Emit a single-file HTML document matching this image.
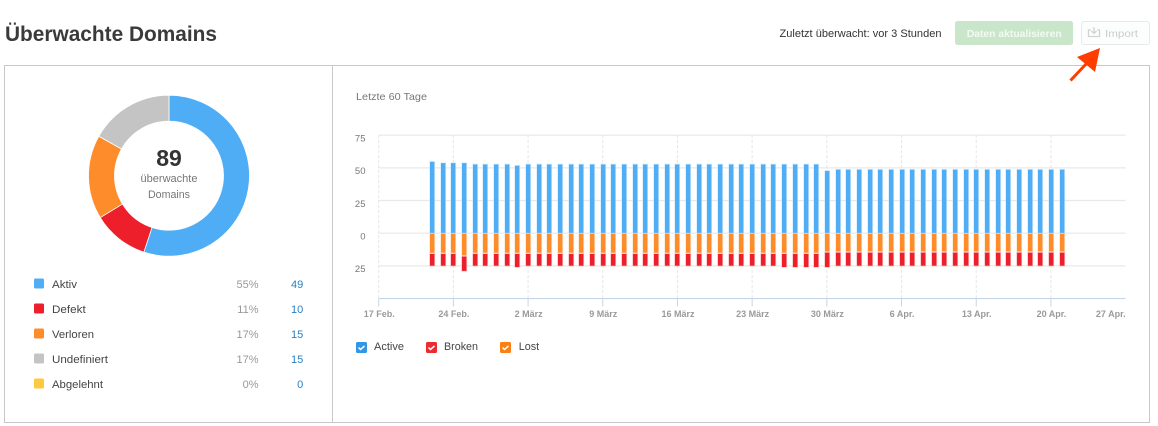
<!DOCTYPE html>
<html lang="de">
<head>
<meta charset="utf-8">
<title>Überwachte Domains</title>
<style>
html,body{margin:0;padding:0;background:#fff;width:1158px;height:426px;overflow:hidden}
svg{display:block;font-family:"Liberation Sans",sans-serif}
</style>
</head>
<body>
<svg id="page" width="1158" height="426" viewBox="0 0 1158 426" xmlns="http://www.w3.org/2000/svg">
  <text x="5" y="41" font-size="21" font-weight="700" fill="#3a3a3a" textLength="212" lengthAdjust="spacingAndGlyphs">Überwachte Domains</text>
  <text x="779.5" y="37" font-size="11" fill="#333" textLength="162" lengthAdjust="spacingAndGlyphs">Zuletzt überwacht: vor 3 Stunden</text>

  <g>
    <rect x="955" y="21" width="118" height="24" rx="2.5" fill="#c9e6ca"/>
    <text x="966.7" y="37" font-size="10.5" font-weight="700" fill="#f2faf2" textLength="95" lengthAdjust="spacingAndGlyphs">Daten aktualisieren</text>
  </g>
  <g>
    <rect x="1081.5" y="21.5" width="68" height="23" rx="2.5" fill="#fcfdfd" stroke="#e8eaea"/>
    <g fill="none" stroke="#d2d2d2" stroke-width="1.300">
      <path d="M1091 30h-2.500v6.500h11V30H1097"/>
      <path d="M1094 27v6.500M1091.500 31l2.500 2.500 2.500-2.500"/>
    </g>
    <text x="1105" y="37" font-size="10.500" fill="#cccccc" textLength="33" lengthAdjust="spacingAndGlyphs">Import</text>
  </g>

  <rect x="4.500" y="65.500" width="1145" height="357" fill="#fff" stroke="#c9c9c9"/>
  <line x1="332.500" y1="66" x2="332.500" y2="422" stroke="#c9c9c9"/>

  <g id="donut"></g>
  <text x="169" y="166" font-size="23" font-weight="700" fill="#333" text-anchor="middle">89</text>
  <text x="169" y="182" font-size="11" fill="#777" text-anchor="middle" textLength="57" lengthAdjust="spacingAndGlyphs">überwachte</text>
  <text x="169" y="198" font-size="11" fill="#777" text-anchor="middle" textLength="42" lengthAdjust="spacingAndGlyphs">Domains</text>

  <g font-size="11">
    <g>
      <rect x="34" y="278.500" width="10" height="10" rx="1.500" fill="#4fadf5"/>
      <text x="52" y="288" fill="#444" textLength="25" lengthAdjust="spacingAndGlyphs">Aktiv</text>
      <text x="258.500" y="288" fill="#999" text-anchor="end">55%</text>
      <text x="303.300" y="288" fill="#2a7fc1" text-anchor="end">49</text>
    </g>
    <g>
      <rect x="34" y="303.500" width="10" height="10" rx="1.500" fill="#ed1f2b"/>
      <text x="52" y="313" fill="#444" textLength="33.700" lengthAdjust="spacingAndGlyphs">Defekt</text>
      <text x="258.500" y="313" fill="#999" text-anchor="end">11%</text>
      <text x="303.300" y="313" fill="#2a7fc1" text-anchor="end">10</text>
    </g>
    <g>
      <rect x="34" y="328.500" width="10" height="10" rx="1.500" fill="#ff8c2b"/>
      <text x="52" y="338" fill="#444" textLength="42" lengthAdjust="spacingAndGlyphs">Verloren</text>
      <text x="258.500" y="338" fill="#999" text-anchor="end">17%</text>
      <text x="303.300" y="338" fill="#2a7fc1" text-anchor="end">15</text>
    </g>
    <g>
      <rect x="34" y="353.500" width="10" height="10" rx="1.500" fill="#c4c4c4"/>
      <text x="52" y="363" fill="#444" textLength="56" lengthAdjust="spacingAndGlyphs">Undefiniert</text>
      <text x="258.500" y="363" fill="#999" text-anchor="end">17%</text>
      <text x="303.300" y="363" fill="#2a7fc1" text-anchor="end">15</text>
    </g>
    <g>
      <rect x="34" y="378.500" width="10" height="10" rx="1.500" fill="#ffc83d"/>
      <text x="52" y="388" fill="#444" textLength="51" lengthAdjust="spacingAndGlyphs">Abgelehnt</text>
      <text x="258.500" y="388" fill="#999" text-anchor="end">0%</text>
      <text x="303.300" y="388" fill="#2a7fc1" text-anchor="end">0</text>
    </g>
  </g>

  <text x="356" y="100" font-size="10.500" fill="#777" textLength="71" lengthAdjust="spacingAndGlyphs">Letzte 60 Tage</text>

  <g id="bar-chart"></g>

  <g font-size="11">
    <g>
      <rect x="356" y="342" width="11" height="11" rx="1.500" fill="#2f96e8"/>
      <path d="M358.500 347.500l2 2 4-3.500" fill="none" stroke="#fff" stroke-width="1.500"/>
      <text x="374" y="350" fill="#444" textLength="30" lengthAdjust="spacingAndGlyphs">Active</text>
    </g>
    <g>
      <rect x="426" y="342" width="11" height="11" rx="1.500" fill="#ee2a2e"/>
      <path d="M428.500 347.500l2 2 4-3.500" fill="none" stroke="#fff" stroke-width="1.500"/>
      <text x="444" y="350" fill="#444" textLength="34" lengthAdjust="spacingAndGlyphs">Broken</text>
    </g>
    <g>
      <rect x="500" y="342" width="11" height="11" rx="1.500" fill="#ff7f0e"/>
      <path d="M502.500 347.500l2 2 4-3.500" fill="none" stroke="#fff" stroke-width="1.500"/>
      <text x="518.700" y="350" fill="#444" textLength="20.500" lengthAdjust="spacingAndGlyphs">Lost</text>
    </g>
  </g>

  <g>
    <line x1="1070.500" y1="80.500" x2="1087" y2="63" stroke="#ff3d00" stroke-width="3"/>
    <polygon points="1100,48 1077,57 1095,72" fill="#ff3d00"/>
  </g>
</svg>

<script>
// Donut data
const donutLabels = ["Aktiv", "Defekt", "Verloren", "Undefiniert", "Abgelehnt"];
const donutValues = [49, 10, 15, 15, 0];
const donutColors = ["#4fadf5", "#ed1f2b", "#ff8c2b", "#c4c4c4", "#ffc83d"];

// Bar chart data: one entry per day, starting 22 Feb
const activeValues = [55,54,54,54,53,53,53,53,52,53,53,53,53,53,53,53,53,53,53,53,53,53,53,53,53,53,53,53,53,53,53,53,53,53,53,53,53,48,49,49,49,49,49,49,49,49,49,49,49,49,49,49,49,49,49,49,49,49,49,49];
const lostValues = [15,15,15,17,15,15,15,15,15,15,15,15,15,15,15,15,15,15,15,15,15,15,15,15,15,15,15,15,15,15,15,15,15,15,15,15,15,14,14,14,14,14,14,14,14,14,14,14,14,14,14,14,14,14,14,14,14,14,14,14];
const brokenValues = [10,10,10,12,10,10,10,10,11,10,10,10,10,10,10,10,10,10,10,10,10,10,10,10,10,10,10,10,10,10,10,10,10,11,11,11,11,12,11,11,11,11,11,11,11,11,11,11,11,11,11,11,11,11,11,11,11,11,11,11];
const xTickLabels = ["17 Feb.", "24 Feb.", "2 März", "9 März", "16 März", "23 März", "30 März", "6 Apr.", "13 Apr.", "20 Apr.", "27 Apr."];
const xTickDays = [0, 7, 14, 21, 28, 35, 42, 49, 56, 63, 70];
const yTickValues = [75, 50, 25, 0, -25];
const yTickLabels = ["75", "50", "25", "0", "25"];
const yAxisMin = -50;
const firstBarDay = 5;

const NS = "http://www.w3.org/2000/svg";
const x0 = 378.7, pxPerDay = 10.67, y0 = 233.2, pxPerUnit = 1.307;
const xScale = d => x0 + d * pxPerDay;
const yScale = v => y0 - v * pxPerUnit;
const plotRight = xScale(70);

function make(tag, attrs, parent) {
  const el = document.createElementNS(NS, tag);
  for (const k in attrs) el.setAttribute(k, attrs[k]);
  parent.appendChild(el);
  return el;
}

// Donut
const donut = document.getElementById("donut");
const cx = 169, cy = 175.7, rOuter = 80.5, rInner = 54.5;
const donutTotal = donutValues.reduce((a, b) => a + b, 0);
let cumulative = 0;
donutValues.forEach((v, i) => {
  if (v === 0) return;
  const a0 = cumulative / donutTotal * 2 * Math.PI;
  cumulative += v;
  const a1 = cumulative / donutTotal * 2 * Math.PI;
  const p = (r, a) => (cx + r * Math.sin(a)).toFixed(2) + " " + (cy - r * Math.cos(a)).toFixed(2);
  const large = a1 - a0 > Math.PI ? 1 : 0;
  const d = "M" + p(rOuter, a0) + "A" + rOuter + " " + rOuter + " 0 " + large + " 1 " + p(rOuter, a1) +
            "L" + p(rInner, a1) + "A" + rInner + " " + rInner + " 0 " + large + " 0 " + p(rInner, a0) + "Z";
  const slice = make("path", {d: d, fill: donutColors[i], stroke: "#fff", "stroke-width": "0.8"}, donut);
  
  
});

// Bar chart
const chart = document.getElementById("bar-chart");

yTickValues.forEach((v, i) => {
  const y = yScale(v);
  const grid = make("line", {x1: x0, x2: plotRight, y1: y, y2: y, stroke: "#e8e8e8", "stroke-width": "1.200"}, chart);
  
  
  const label = make("text", {x: 365.500, y: y + 6.300, "font-size": "9.500", fill: "#777", "text-anchor": "end"}, chart);
  label.textContent = yTickLabels[i];
  
  
});

xTickDays.forEach((d, i) => {
  const x = xScale(d);
  const last = i === xTickDays.length - 1;
  if (!last) {
    const grid = make("line", {x1: x, x2: x, y1: yScale(75), y2: yScale(yAxisMin), stroke: "#e3e6ea", "stroke-dasharray": "3 2"}, chart);
    
    
    const tick = make("line", {x1: x, x2: x, y1: yScale(yAxisMin), y2: yScale(yAxisMin) + 8, stroke: "#c6d6e8"}, chart);
    
    
  }
  const label = make("text", {x: last ? x : x + 0.500, y: 317, "font-size": "9", "font-weight": "700", fill: "#9a9a9a", "text-anchor": last ? "end" : "middle"}, chart);
  label.textContent = xTickLabels[i];
  
  
});

const axisLine = make("line", {x1: x0, x2: plotRight, y1: yScale(yAxisMin), y2: yScale(yAxisMin), stroke: "#c6d6e8", "stroke-width": "1.200"}, chart);



function barRect(cxBar, yTop, yBottom, fill, stroke, name) {
  const r = make("rect", {x: cxBar - 2.200, y: yTop, width: 4.400, height: Math.max(0, yBottom - yTop), fill: fill, stroke: stroke, "stroke-width": "1.400", "paint-order": "stroke"}, chart);
  
  
}

activeValues.forEach((v, i) => {
  const c = Math.round(xScale(firstBarDay + i)) + 0.200;
  barRect(c, yScale(v) + 0.500, yScale(0) - 0.300, "#4fadf5", "rgba(200,228,250,.7)", "bar-active");
  const lostEnd = lostValues[i];
  barRect(c, yScale(0) + 0.500, yScale(-lostEnd) - 0.100, "#ff8c2b", "rgba(255,216,180,.7)", "bar-lost");
  barRect(c, yScale(-lostEnd) + 1.200, yScale(-(lostEnd + brokenValues[i])) - 0.200, "#ed1f2b", "rgba(248,175,180,.8)", "bar-broken");
});
</script>
</body>
</html>
